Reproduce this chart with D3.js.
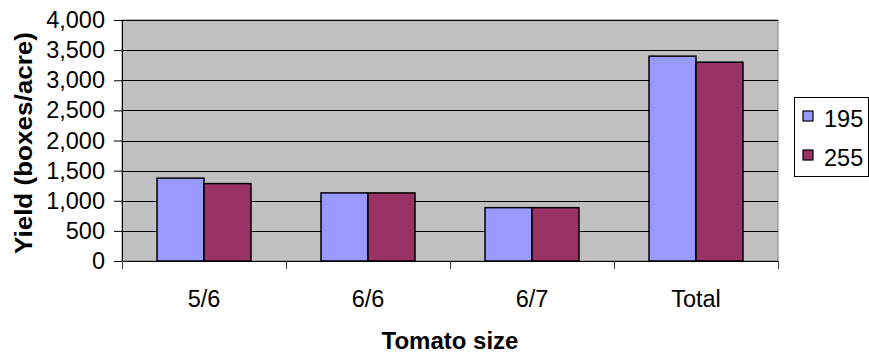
<!DOCTYPE html>
<html>
<head>
<meta charset="utf-8">
<script src="https://cdn.jsdelivr.net/npm/d3@7"></script>
<style>
  html, body { margin: 0; padding: 0; background: #fff; }
  svg { display: block; font-family: "Liberation Sans", Arial, sans-serif; }
</style>
</head>
<body>
<svg id="chart" width="869" height="353"></svg>
<script>
// Tomato yield by size class for two plant populations
const categories = ["5/6", "6/6", "6/7", "Total"];
const seriesNames = ["195", "255"];
const yield195 = [1375, 1130, 885, 3400];
const yield255 = [1285, 1130, 885, 3300];
const yTicks = [0, 500, 1000, 1500, 2000, 2500, 3000, 3500, 4000];
const colors = ["#9999FF", "#993366"];

const series = [yield195, yield255];
const svg = d3.select("#chart");
const plot = { left: 122, right: 778, top: 20, bottom: 261 };
const labelSize = 23.5;
const titleSize = 24;

const x = d3.scaleBand().domain(categories).range([plot.left, plot.right]).paddingInner(0).paddingOuter(0);
const inner = d3.scaleBand().domain(seriesNames).range([0, x.bandwidth()]).paddingInner(0).paddingOuter(0.745);
const y = d3.scaleLinear().domain([0, 4000]).range([plot.bottom, plot.top]);

// plot background
svg.append("rect")
  .attr("x", plot.left).attr("y", plot.top)
  .attr("width", plot.right - plot.left).attr("height", plot.bottom - plot.top)
  .attr("fill", "#C0C0C0").attr("stroke", "#808080").attr("stroke-width", 1);

// horizontal gridlines
svg.append("g").selectAll("line")
  .data(yTicks.filter(d => d > 0))
  .join("line")
  .attr("x1", plot.left).attr("x2", plot.right)
  .attr("y1", d => Math.round(y(d)) + 0.5).attr("y2", d => Math.round(y(d)) + 0.5)
  .attr("stroke", "#000").attr("stroke-width", 1);

// bars
const groups = svg.append("g").selectAll("g")
  .data(categories)
  .join("g")
  .attr("transform", c => `translate(${x(c)},0)`);

groups.selectAll("rect")
  .data((c, i) => seriesNames.map((s, k) => ({ s, v: series[k][i], k })))
  .join("rect")
  .attr("x", d => inner(d.s))
  .attr("y", d => y(d.v))
  .attr("width", inner.bandwidth())
  .attr("height", d => y(0) - y(d.v))
  .attr("fill", d => colors[d.k])
  .attr("stroke", "#000").attr("stroke-width", 1.5);

// y axis
const yAxis = d3.axisLeft(y).tickValues(yTicks).tickSize(8).tickPadding(9)
  .tickFormat(d3.format(","));
const gy = svg.append("g").attr("transform", `translate(${plot.left},0)`).call(yAxis);
gy.select(".domain").attr("stroke", "#000");
gy.selectAll(".tick line").attr("stroke", "#000");
gy.selectAll("text").attr("font-size", labelSize).attr("fill", "#000")
  .attr("font-family", "Liberation Sans, Arial, sans-serif");

// x axis with ticks at category boundaries
const gx = svg.append("g").attr("transform", `translate(0,${plot.bottom})`);
gx.append("line").attr("x1", plot.left).attr("x2", plot.right)
  .attr("y1", 0.5).attr("y2", 0.5).attr("stroke", "#000");
gx.selectAll("line.tk")
  .data(categories.map(c => x(c)).concat([plot.right]))
  .join("line").attr("class", "tk")
  .attr("x1", d => Math.round(d) + 0.5).attr("x2", d => Math.round(d) + 0.5)
  .attr("y1", 0).attr("y2", 8).attr("stroke", "#404040");
gx.selectAll("text")
  .data(categories)
  .join("text")
  .attr("x", c => x(c) + x.bandwidth() / 2)
  .attr("y", 46)
  .attr("text-anchor", "middle")
  .attr("font-size", labelSize).attr("fill", "#000")
  .text(c => c);

// axis titles
svg.append("text")
  .attr("x", (plot.left + plot.right) / 2).attr("y", 349)
  .attr("text-anchor", "middle").attr("font-size", titleSize).attr("font-weight", "bold")
  .text("Tomato size");

svg.append("text")
  .attr("transform", `translate(32,143) rotate(-90)`)
  .attr("text-anchor", "middle").attr("font-size", titleSize).attr("font-weight", "bold")
  .attr("textLength", 222).attr("lengthAdjust", "spacingAndGlyphs")
  .text("Yield (boxes/acre)");

// legend
const legend = svg.append("g");
legend.append("rect")
  .attr("x", 794.5).attr("y", 97.5).attr("width", 74).attr("height", 79)
  .attr("fill", "#fff").attr("stroke", "#000");
const items = legend.selectAll("g.item")
  .data(seriesNames)
  .join("g").attr("class", "item")
  .attr("transform", (d, i) => `translate(803,${111 + i * 39})`);
items.append("rect")
  .attr("x", 0).attr("y", 0).attr("width", 10).attr("height", 10)
  .attr("fill", (d, i) => colors[i]).attr("stroke", "#000").attr("stroke-width", 1.2);
items.append("text")
  .attr("x", 21).attr("y", 16)
  .attr("font-size", labelSize).attr("fill", "#000")
  .text(d => d);
</script>
</body>
</html>
